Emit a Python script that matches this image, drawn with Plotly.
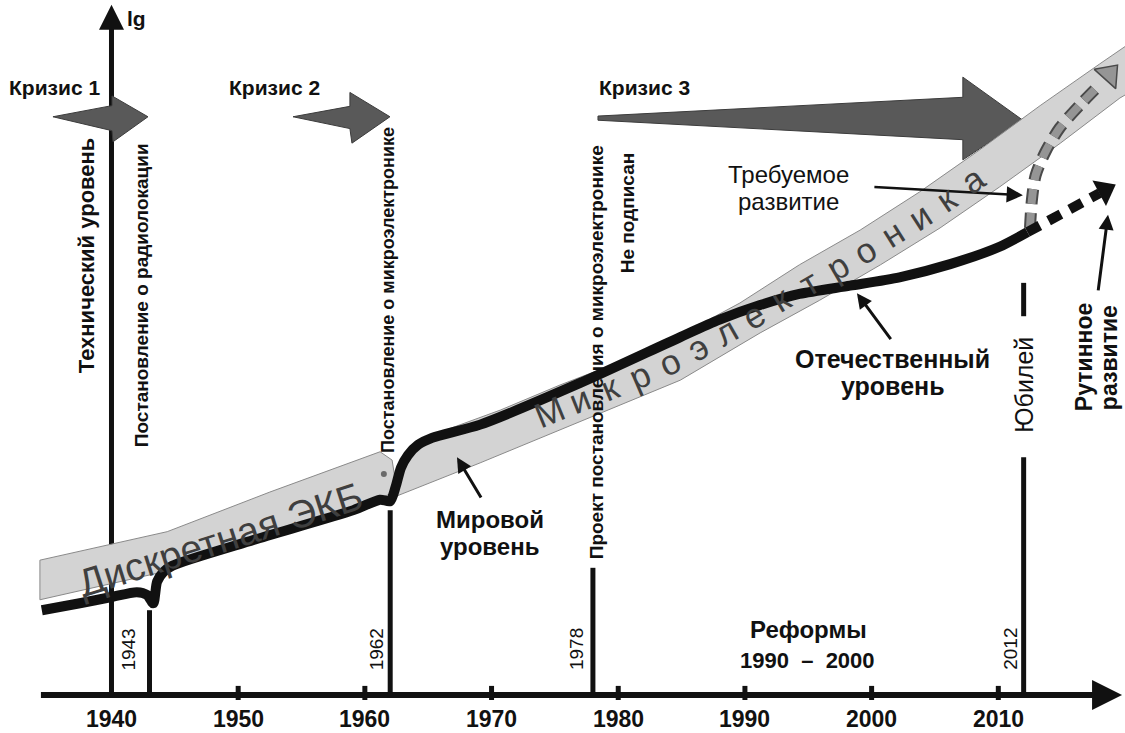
import numpy as np
import plotly.graph_objects as go

# ---------------------------------------------------------------- canvas
W, H = 1125, 733
MARGIN_B = 33
X_RANGE = [1931.2, 2020.0]
Y_RANGE = [-0.072, 10.0]
PX_PER_YEAR = W / (X_RANGE[1] - X_RANGE[0])
PX_PER_LG = (H - MARGIN_B) / (Y_RANGE[1] - Y_RANGE[0])

FONT = "Liberation Sans, Arial, sans-serif"
NARROW = "Liberation Sans Narrow, Arial Narrow, Liberation Sans, Arial, sans-serif"
INK = "#111111"
BAND_FILL = "#d3d3d3"
BAND_EDGE = "#8a8a8a"
BAND_TEXT = "#3f3f3f"
CRISIS_FILL = "#595959"

# ---------------------------------------------------------------- data
tick_years = [1940, 1950, 1960, 1970, 1980, 1990, 2000, 2010]
tick_labels = ["1940", "1950", "1960", "1970", "1980", "1990", "2000", "2010"]

# domestic technology level ("Отечественный уровень")
dom_year = [1934.5, 1937.5, 1940.0, 1942.0, 1942.8, 1943.3, 1943.6, 1944.1, 1944.8,
            1951.2, 1959.1, 1961.2, 1962.0, 1962.45, 1962.85, 1963.4, 1964.2, 1965.3,
            1969.1, 1977.0, 1984.9, 1988.0, 1991.2, 1994.3, 1998.3, 2002.2, 2006.2,
            2010.1, 2012.3]
dom_lg = [1.22, 1.32, 1.41, 1.48, 1.44, 1.32, 1.63, 1.77, 1.86,
          2.23, 2.66, 2.81, 2.79, 3.01, 3.27, 3.45, 3.60, 3.70,
          3.89, 4.49, 5.15, 5.40, 5.61, 5.77, 5.89, 6.01, 6.20,
          6.45, 6.66]

# forecasts after 2012
routine_year = [2012.3, 2018.0]
routine_lg = [6.66, 7.22]
required_year = [2012.5, 2012.65, 2012.95, 2013.7, 2014.85, 2016.6, 2018.0]
required_lg = [6.72, 7.12, 7.48, 7.81, 8.16, 8.52, 8.78]

# world level bands
disc_top_year = [1934.35, 1944.4, 1952.5, 1961.2, 1962.15, 1962.4]
disc_top_lg = [1.94, 2.35, 2.92, 3.50, 3.38, 3.09]
disc_bot_year = [1934.35, 1943.8, 1952.3, 1962.0]
disc_bot_lg = [1.37, 1.76, 2.27, 2.89]

micro_top_year = [1962.2, 1962.8, 1963.7, 1965.9, 1970.7, 1975.4, 1980.1, 1984.9,
                  1989.6, 1994.3, 1999.1, 2003.8, 2008.5, 2013.3, 2018.0, 2021.2]
micro_top_lg = [2.95, 3.31, 3.57, 3.78, 4.10, 4.46, 4.79, 5.18,
                5.64, 6.19, 6.69, 7.24, 7.84, 8.48, 9.08, 9.48]
micro_bot_year = [1962.2, 1969.1, 1977.0, 1984.9, 1991.2, 1995.9, 2000.7, 2005.4,
                  2010.1, 2014.9, 2019.6, 2021.2]
micro_bot_lg = [2.84, 3.34, 3.93, 4.53, 5.21, 5.68, 6.19, 6.72,
                7.31, 7.94, 8.59, 8.76]

# crisis arrows (outline polygons)
crisis_names = ["Кризис 1", "Кризис 2", "Кризис 3"]
crisis_year = [
    [1935.38, 1940.04, 1940.04, 1942.88, 1940.12, 1940.04],
    [1954.33, 1958.82, 1958.82, 1961.98, 1958.98, 1958.82],
    [1978.40, 2007.20, 2007.20, 2011.94, 2007.20, 2007.20, 1978.40],
]
crisis_lg = [
    [8.32, 8.48, 8.62, 8.32, 7.96, 8.12],
    [8.32, 8.47, 8.67, 8.32, 7.94, 8.15],
    [8.33, 8.60, 8.89, 8.27, 7.70, 7.99, 8.27],
]

# events on the time axis
event_years = [1943, 1962, 1978, 2012]
event_labels = ["1943", "1962", "1978", "2012"]
event_top_lg = [1.22, 2.66, 1.83, 3.42]
jubilee_mark_lg = [5.45, 5.93]

fig = go.Figure()

# time axis line and tick marks
fig.add_trace(go.Scatter(x=[1934.43, 2018.6], y=[0, 0], mode="lines",
                         line=dict(color=INK, width=6), hoverinfo="skip"))
fig.add_trace(go.Scatter(x=tick_years[1:], y=[0] * (len(tick_years) - 1), mode="markers",
                         marker=dict(symbol="line-ns", size=13,
                                     line=dict(color=INK, width=5)),
                         hoverinfo="skip"))
# lg axis
fig.add_trace(go.Scatter(x=[1940, 1940], y=[0, 9.75], mode="lines",
                         line=dict(color=INK, width=5), hoverinfo="skip"))

# crisis arrows
for xs, ys in zip(crisis_year, crisis_lg):
    fig.add_trace(go.Scatter(x=xs + xs[:1], y=ys + ys[:1], mode="lines", fill="toself",
                             fillcolor=CRISIS_FILL, line=dict(color="#3c3c3c", width=1),
                             hoverinfo="skip"))

# event lines
for yr, top in zip(event_years, event_top_lg):
    fig.add_trace(go.Scatter(x=[yr, yr], y=[0, top], mode="lines",
                             line=dict(color=INK, width=5), hoverinfo="skip"))
fig.add_trace(go.Scatter(x=[2012, 2012], y=jubilee_mark_lg, mode="lines",
                         line=dict(color=INK, width=5), hoverinfo="skip"))

# world level bands
fig.add_trace(go.Scatter(x=disc_top_year + disc_bot_year[::-1] + disc_top_year[:1],
                         y=disc_top_lg + disc_bot_lg[::-1] + disc_top_lg[:1],
                         mode="lines", fill="toself", fillcolor=BAND_FILL,
                         line=dict(color=BAND_EDGE, width=1), hoverinfo="skip"))
fig.add_trace(go.Scatter(x=micro_top_year + micro_bot_year[::-1] + micro_top_year[:1],
                         y=micro_top_lg + micro_bot_lg[::-1] + micro_top_lg[:1],
                         mode="lines", fill="toself", fillcolor=BAND_FILL,
                         line=dict(color=BAND_EDGE, width=1), hoverinfo="skip"))
fig.add_trace(go.Scatter(x=[1961.5], y=[3.18], mode="markers",
                         marker=dict(color="#6a6a6a", size=6), hoverinfo="skip"))

# domestic level curve
fig.add_trace(go.Scatter(x=dom_year, y=dom_lg, mode="lines",
                         line=dict(color=INK, width=10, shape="spline", smoothing=0.7),
                         hoverinfo="skip"))

# forecasts
fig.add_trace(go.Scatter(x=required_year, y=required_lg, mode="lines",
                         line=dict(color="#4a4a4a", width=12, dash="15px,9px",
                                   shape="spline", smoothing=0.8), hoverinfo="skip"))
fig.add_trace(go.Scatter(x=required_year, y=required_lg, mode="lines",
                         line=dict(color="#959595", width=8, dash="15px,9px",
                                   shape="spline", smoothing=0.8), hoverinfo="skip"))
fig.add_trace(go.Scatter(x=[2018.75], y=[8.93], mode="markers", cliponaxis=False,
                         marker=dict(symbol="triangle-up", size=25, angle=42, color="#959595",
                                     line=dict(color="#4a4a4a", width=1.5)),
                         hoverinfo="skip"))
fig.add_trace(go.Scatter(x=routine_year, y=routine_lg, mode="lines",
                         line=dict(color=INK, width=10, dash="14px,10px"), hoverinfo="skip"))
fig.add_trace(go.Scatter(x=[2018.4], y=[7.26], mode="markers", cliponaxis=False,
                         marker=dict(symbol="triangle-up", size=25, angle=62, color=INK),
                         hoverinfo="skip"))

ann = []


def text(x, y, s, size, bold=True, angle=0, family=FONT, color=INK, xshift=0, yref="y"):
    ann.append(dict(x=x, y=y, yref=yref, text=f"<b>{s}</b>" if bold else s, showarrow=False,
                    xanchor="center", yanchor="middle", textangle=angle, xshift=xshift,
                    font=dict(family=family, size=size, color=color)))


def pointer(x, y, ax, ay, width=3, size=1.0):
    ann.append(dict(x=x, y=y, ax=ax, ay=ay, axref="x", ayref="y", text="",
                    showarrow=True, arrowhead=2, arrowsize=size, arrowwidth=width,
                    arrowcolor=INK, standoff=0))


# year labels under the time axis (paper-referenced so they sit in the bottom margin)
for yr, lab in zip(tick_years, tick_labels):
    text(yr, -0.027, lab, 23, yref="paper")

# axis arrowheads
pointer(2019.77, 0, 2018.0, 0, width=6, size=1.0)
pointer(1940, 9.93, 1940, 9.55, width=5, size=1.0)
text(1942.0, 9.74, "lg", 21)

# crisis labels
for name, xs in zip(crisis_names, [1935.5, 1952.9, 1982.1]):
    text(xs, 8.74, name, 21)

# vertical captions
text(1938.0, 6.33, "Технический уровень", 22, angle=-90)
text(1943, 5.76, "Постановление о радиолокации", 19, angle=-90, xshift=-8)
text(1962, 5.83, "Постановление о микроэлектронике", 18, angle=-90, xshift=-2)
text(1978, 4.93, "Проект постановления о микроэлектронике", 19, angle=-90, xshift=3)
text(1978, 6.93, "Не подписан", 19, angle=-90, xshift=34)
text(2012, 4.46, "Юбилей", 25, bold=False, angle=-90)
for yr, lab, dx in zip(event_years, event_labels, [-21, -14, -17, -14]):
    text(yr, 0.66, lab, 19, bold=False, angle=-90, family=NARROW, xshift=dx)

# notes
text(1969.85, 2.52, "Мировой", 24)
text(1969.85, 2.14, "уровень", 24)
pointer(1967.27, 3.42, 1969.24, 2.82)
text(2001.68, 4.84, "Отечественный", 25)
text(2001.68, 4.45, "уровень", 25)
pointer(1998.84, 5.78, 2001.60, 5.10)
text(1993.4, 7.49, "Требуемое", 24, bold=False)
text(1993.4, 7.10, "развитие", 24, bold=False)
pointer(2011.94, 7.19, 2000.1, 7.31, width=2.5, size=1.3)
text(2016.76, 4.86, "Рутинное", 23, angle=-90)
text(2018.73, 4.86, "развитие", 23, angle=-90)
pointer(2018.66, 6.91, 2017.87, 5.80)
text(1995.05, 0.94, "Реформы", 24)
text(1994.9, 0.50, "1990  –  2000", 22, family=NARROW)

# band names
d_ang = np.degrees(np.arctan2(-(disc_top_lg[3] - disc_top_lg[0]) * PX_PER_LG,
                              (disc_top_year[3] - disc_top_year[0]) * PX_PER_YEAR))
text(1948.6, 2.24, "Дискретная ЭКБ", 39, bold=False, angle=d_ang, color=BAND_TEXT)

word = "Микроэлектроника"
word_span = [1974.6, 2008.0]
grid = np.linspace(1963.0, 2020.0, 3000)
centre = (np.interp(grid, micro_top_year, micro_top_lg) +
          np.interp(grid, micro_bot_year, micro_bot_lg)) / 2
gx = grid * PX_PER_YEAR
gy = -centre * PX_PER_LG
arc = np.concatenate([[0.0], np.cumsum(np.hypot(np.diff(gx), np.diff(gy)))])
s0, s1 = np.interp(word_span, grid, arc)
for i, ch in enumerate(word):
    s = s0 + (s1 - s0) * i / (len(word) - 1)
    yr = float(np.interp(s, arc, grid))
    lg = float(np.interp(s, arc, centre))
    xa, ya = np.interp(s - 20, arc, gx), np.interp(s - 20, arc, gy)
    xb, yb = np.interp(s + 20, arc, gx), np.interp(s + 20, arc, gy)
    ang = float(np.degrees(np.arctan2(yb - ya, xb - xa)))
    text(yr, lg, ch, 35, bold=False, angle=ang, color=BAND_TEXT)

fig.update_layout(
    width=W, height=H,
    margin=dict(l=0, r=0, t=0, b=MARGIN_B),
    paper_bgcolor="white", plot_bgcolor="white",
    showlegend=False,
    annotations=ann,
    xaxis=dict(range=X_RANGE, showgrid=False, zeroline=False, showline=False,
               showticklabels=False, ticks=""),
    yaxis=dict(range=Y_RANGE, visible=False),
)

fig.write_html("out.html")
